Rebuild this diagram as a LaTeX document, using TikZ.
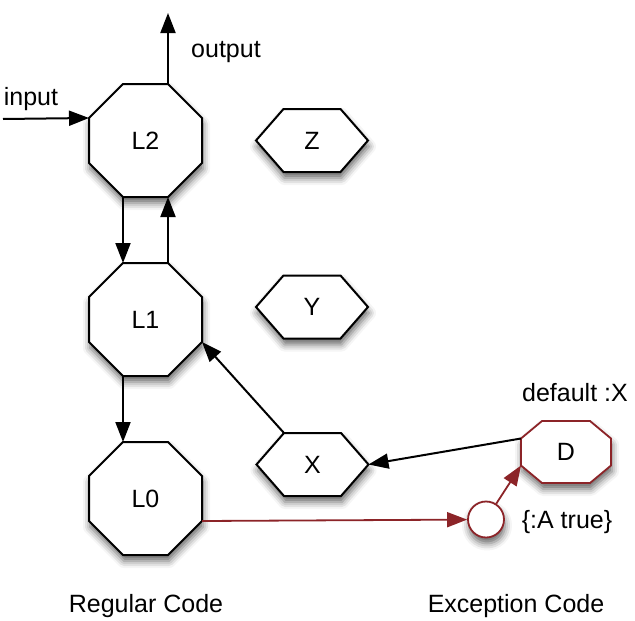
\documentclass[tikz,border=0pt]{standalone}
\usepackage{fontspec}
\setmainfont{Liberation Sans}
\usetikzlibrary{arrows.meta,positioning,backgrounds,shadows.blur}
\definecolor{excRed}{HTML}{8C2428}

\begin{document}
\begin{tikzpicture}[
  x=1pt, y=-1pt,
  font=\fontsize{25}{28}\selectfont,
  shade/.style={blur shadow={shadow xshift=1pt, shadow yshift=-6pt,
                shadow blur radius=7pt, shadow opacity=60}},
  codebox/.style={minimum width=113pt, minimum height=113pt,
                  inner sep=0pt, outer sep=0pt},
  valbox/.style={minimum width=112pt, minimum height=63pt,
                 inner sep=0pt, outer sep=0pt},
  excbox/.style={minimum width=90pt, minimum height=62pt,
                 inner sep=0pt, outer sep=0pt},
  outline/.style={draw, line width=2pt, fill=white, line join=miter, shade},
  hook/.style={circle, draw=excRed, line width=1.8pt, fill=white,
               minimum size=36pt, inner sep=0pt, shade},
  lbl/.style={inner sep=0pt},
  arr/.style={-{Triangle[length=20pt,width=15pt]}, line width=2pt},
  excarr/.style={arr, line width=1.8pt, color=excRed}
]
\useasboundingbox (0,0) rectangle (635,621);

% regular code
\node[codebox] (L2) at (145.5,140.5) {L2};
\node[codebox] (L1) at (145.5,319.5) {L1};
\node[codebox] (L0) at (145.5,498.5) {L0};

\node[valbox] (Z) at (312,140.5) {Z};
\node[valbox] (Y) at (312,307) {Y};
\node[valbox] (X) at (312.5,464.5) {X};

% exception code
\node[excbox] (D) at (566,452) {D};
\node[hook] (hk) at (486,519.5) {};

\begin{scope}[on background layer]
  \foreach \n in {L2,L1,L0}
    \draw[outline] ([xshift=-22.5pt]\n.north) -- ([xshift=22.5pt]\n.north)
      -- ([yshift=22.5pt]\n.east) -- ([yshift=-22.5pt]\n.east)
      -- ([xshift=22.5pt]\n.south) -- ([xshift=-22.5pt]\n.south)
      -- ([yshift=-22.5pt]\n.west) -- ([yshift=22.5pt]\n.west) -- cycle;
  \foreach \n in {Z,Y,X}
    \draw[outline] (\n.west) -- ([xshift=-28.5pt]\n.north)
      -- ([xshift=28.5pt]\n.north) -- (\n.east)
      -- ([xshift=28.5pt]\n.south) -- ([xshift=-28.5pt]\n.south) -- cycle;
  \draw[outline, draw=excRed, line width=1.8pt]
    ([xshift=-24pt]D.north) -- ([xshift=24pt]D.north)
    -- ([yshift=13.5pt]D.east) -- ([yshift=-13.5pt]D.east)
    -- ([xshift=24pt]D.south) -- ([xshift=-24pt]D.south)
    -- ([yshift=-13.5pt]D.west) -- ([yshift=13.5pt]D.west) -- cycle;
\end{scope}

\coordinate (in) at (3,119);
\coordinate (out) at (168,13);
\node[lbl] (inlbl) at (31,99) {input};
\node[lbl] (outlbl) at (226,52) {output};
\node[lbl] (dflt) at (575,393) {default :X};
\node[lbl] (cond) at (567,522) {\{:A true\}};
\node[lbl] (reg) at (146,606) {Regular Code};
\node[lbl] (exc) at (516,606) {Exception Code};

\draw[arr] (in) -- ([yshift=22.5pt]L2.west);
\draw[arr] ([xshift=22.5pt]L2.north) -- (out);
\draw[arr] ([xshift=-22.5pt]L2.south) -- ([xshift=-22.5pt]L1.north);
\draw[arr] ([xshift=22.5pt]L1.north) -- ([xshift=22.5pt]L2.south);
\draw[arr] ([xshift=-22.5pt]L1.south) -- ([xshift=-22.5pt]L0.north);
\draw[arr] ([xshift=-28.5pt]X.north) -- ([yshift=-22.5pt]L1.east);
\draw[arr] ([yshift=13.5pt]D.west) -- (X.east);
\draw[excarr] ([yshift=-22.5pt]L0.east) -- (hk);
\draw[excarr] (hk) -- ([yshift=-13.5pt]D.west);
\end{tikzpicture}
\end{document}
